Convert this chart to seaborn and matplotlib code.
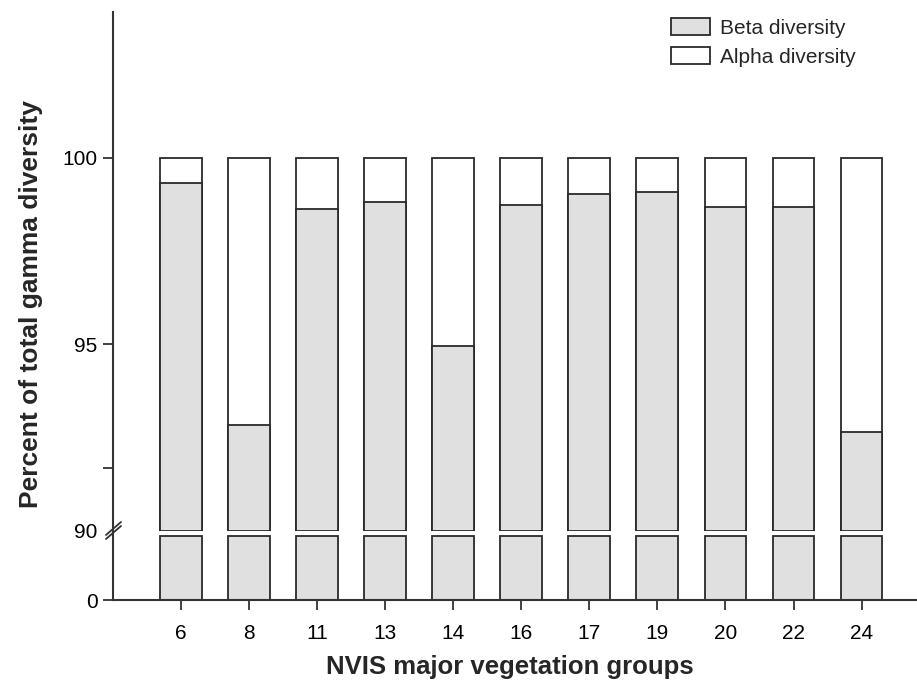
import numpy as np
import pandas as pd
import matplotlib
matplotlib.use("Agg")
import matplotlib.pyplot as plt
import seaborn as sns

groups = ["6", "8", "11", "13", "14", "16", "17", "19", "20", "22", "24"]
beta = [99.31, 92.85, 98.63, 98.81, 94.95, 98.72, 99.02, 99.09, 98.69, 98.69, 92.65]
alpha = [100 - b for b in beta]
total = [b + a for b, a in zip(beta, alpha)]

sns.set_style("ticks")
plt.rcParams["font.family"] = ["Liberation Sans", "DejaVu Sans"]

df = pd.DataFrame({"group": groups, "beta": beta, "total": total})
df["beta_low"] = np.minimum(df["beta"], 90)

W, H = 917, 687
fig = plt.figure(figsize=(W / 100, H / 100), dpi=100)
L = 113 / W
R = 916 / W
up_b, up_t = 1 - 531 / H, 1 - 12 / H
lo_b, lo_t = 1 - 600 / H, 1 - 531 / H
ax_up = fig.add_axes([L, up_b, R - L, up_t - up_b])
ax_lo = fig.add_axes([L, lo_b, R - L, lo_t - lo_b])

grey = "#e0e0e0"
edge = "#2a2a2a"
lw = 1.3
bw = 0.615
fs = 15

# upper part
sns.barplot(data=df, x="group", y="total", order=groups, color="white",
            edgecolor=edge, linewidth=lw, width=bw, ax=ax_up, saturation=1,
            label="Alpha diversity")
sns.barplot(data=df, x="group", y="beta", order=groups, color=grey,
            edgecolor=edge, linewidth=lw, width=bw, ax=ax_up, saturation=1,
            label="Beta diversity")
for p in ax_up.patches:
    h = p.get_height()
    p.set_y(90)
    p.set_height(h - 90)
    p.set_clip_on(False)

# lower part
sns.barplot(data=df, x="group", y="beta_low", order=groups, color=grey,
            edgecolor=edge, linewidth=lw, width=bw, ax=ax_lo, saturation=1)

xl = (-1.0, 10.8)
for ax in (ax_up, ax_lo):
    ax.set_xlim(*xl)
    ax.set_xlabel("")
    ax.set_ylabel("")
    for s in ("top", "right"):
        ax.spines[s].set_visible(False)
    ax.spines["left"].set_color("#333333")
    ax.spines["left"].set_linewidth(1.5)
    ax.tick_params(axis="both", length=7, width=1.3, color="#333333",
                   labelsize=fs, labelcolor="black", pad=4)

ax_up.set_ylim(90, 103.9)
ax_up.set_yticks([90, 91.7, 95, 100])
ax_up.set_yticklabels(["90", "", "95", "100"])
ax_up.yaxis.get_major_ticks()[0].tick1line.set_visible(False)
ax_up.spines["bottom"].set_visible(False)
ax_up.tick_params(axis="x", bottom=False, labelbottom=False)

ax_lo.set_ylim(0, 90 * 69 / 64.3)
ax_lo.set_yticks([0])
ax_lo.spines["bottom"].set_color("#333333")
ax_lo.spines["bottom"].set_linewidth(1.5)
ax_lo.tick_params(axis="x", pad=10)

# break marks
for dy in (0, 4):
    fig.add_artist(plt.Line2D([106 / W, 121 / W],
                              [1 - (539 - dy) / H, 1 - (526 - dy) / H],
                              color="#333333", lw=1.3))

fig.text(L + (R - L) / 2 - 0.005, 1 - 667 / H, "NVIS major vegetation groups",
         ha="center", va="center", fontsize=18.5, fontweight="bold")
fig.text(31 / W, 1 - 304 / H, "Percent of total gamma diversity",
         ha="center", va="center", rotation=90, fontsize=19, fontweight="bold")

handles, labels = ax_up.get_legend_handles_labels()
order = [labels.index("Beta diversity"), labels.index("Alpha diversity")]
leg = ax_up.legend([handles[i] for i in order], [labels[i] for i in order],
                   loc="upper left", bbox_to_anchor=(671 / W, 1 - 18 / H),
                   bbox_transform=fig.transFigure, frameon=False, fontsize=fs,
                   handlelength=1.85, handleheight=0.86, handletextpad=0.48,
                   labelspacing=0.45, borderaxespad=0, borderpad=0)

fig.savefig("out.png", dpi=100)
